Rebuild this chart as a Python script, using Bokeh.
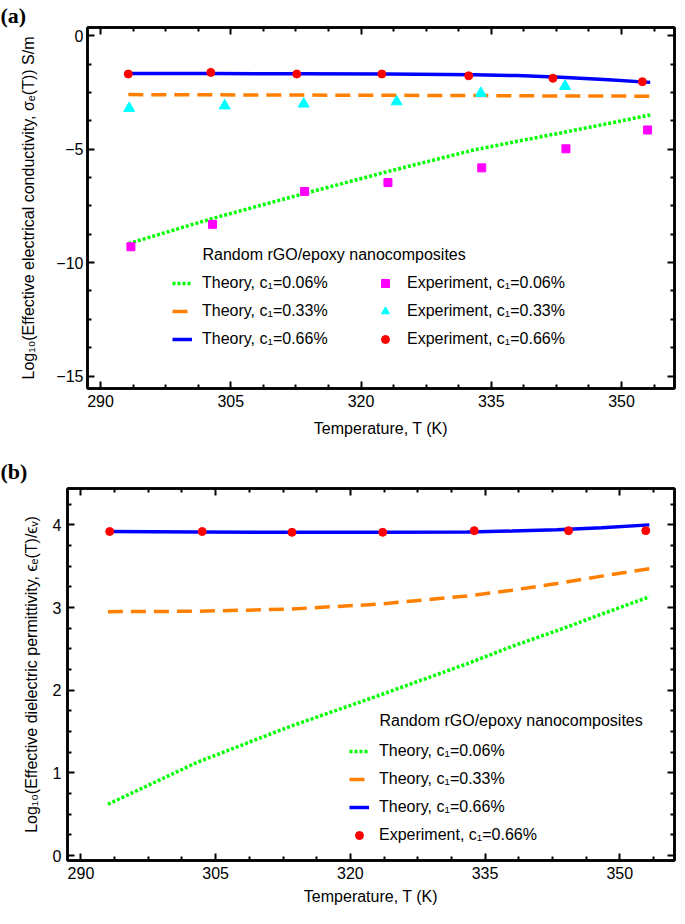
import numpy as np
from bokeh.plotting import figure
from bokeh.models import (Range1d, LinearAxis, FixedTicker, Legend, LegendItem,
                          Label, CustomJSTickFormatter)
from bokeh.layouts import column, row
from bokeh.embed import file_html
from bokeh.resources import INLINE

# ---------------- panel (a) data : log10 conductivity ----------------
a_T_line = [293.2, 303.0, 313.0, 323.0, 333.0, 338.0, 343.0, 348.0, 353.3]
a_theory_006 = [-9.16, -8.04, -7.00, -5.99, -5.03, -4.65, -4.28, -3.90, -3.49]
a_theory_033 = [-2.59, -2.60, -2.61, -2.62, -2.63, -2.64, -2.65, -2.65, -2.66]
a_theory_066 = [-1.66, -1.66, -1.67, -1.68, -1.71, -1.75, -1.82, -1.92, -2.05]

a_T_exp006 = [293.5, 302.9, 313.5, 323.1, 333.9, 343.6, 353.0]
a_exp006 = [-9.30, -8.31, -6.86, -6.47, -5.82, -4.98, -4.15]
a_T_exp033 = [293.3, 304.3, 313.4, 324.1, 333.8, 343.5]
a_exp033 = [-3.19, -3.08, -3.00, -2.90, -2.53, -2.22]
a_T_exp066 = [293.2, 302.7, 312.6, 322.4, 332.4, 342.1, 352.4]
a_exp066 = [-1.68, -1.61, -1.68, -1.68, -1.76, -1.87, -2.02]

# ---------------- panel (b) data : log10 permittivity ----------------
b_T_line = [293.0, 303.0, 313.0, 323.0, 333.0, 338.0, 343.0, 348.0, 353.3]
b_theory_006 = [0.62, 1.13, 1.55, 1.93, 2.32, 2.53, 2.72, 2.92, 3.13]
b_theory_033 = [2.95, 2.955, 2.98, 3.04, 3.14, 3.21, 3.29, 3.38, 3.47]
b_theory_066 = [3.92, 3.915, 3.91, 3.91, 3.915, 3.925, 3.94, 3.965, 4.00]
b_T_exp066 = [293.2, 303.5, 313.5, 323.6, 333.8, 344.3, 352.9]
b_exp066 = [3.92, 3.92, 3.91, 3.91, 3.93, 3.93, 3.93]

# ---------------- axes / labels ----------------
x_major = [290, 305, 320, 335, 350]
a_y_major = [-15, -10, -5, 0]
b_y_major = [0, 1, 2, 3, 4]
x_title = "Temperature, T (K)"
a_y_title = "Log\u2081\u2080(Effective electrical conductivity, \u03c3\u2091(T)) S/m"
b_y_title = "Log\u2081\u2080(Effective dielectric permittivity, \u03f5\u2091(T)/\u03f5\u1d65)"
legend_title = "Random rGO/epoxy nanocomposites"
a_theory_labels = ["Theory, c\u2081=0.06%", "Theory, c\u2081=0.33%", "Theory, c\u2081=0.66%"]
a_exp_labels = ["Experiment, c\u2081=0.06%", "Experiment, c\u2081=0.33%", "Experiment, c\u2081=0.66%"]
b_labels = ["Theory, c\u2081=0.06%", "Theory, c\u2081=0.33%", "Theory, c\u2081=0.66%",
            "Experiment, c\u2081=0.66%"]

X_RANGE = (288.5, 356.1)
A_Y_RANGE = (-15.55, 0.37)
B_Y_RANGE = (-0.06, 4.44)

FONT = "Liberation Sans"
GREEN, ORANGE, BLUE = "#00FF00", "#FF8000", "#0000FF"
RED, MAGENTA, CYAN = "#FF0000", "#FF00FF", "#00FFFF"


def minor_ticks(majors, step, lo, hi):
    out = []
    t = min(majors)
    while t - step >= lo:
        t -= step
    while t <= hi:
        if all(abs(t - m) > 1e-6 for m in majors):
            out.append(round(float(t), 4))
        t += step
    return out


def style_axis(ax, ticker, hidden=False):
    ax.ticker = ticker
    ax.major_tick_in = 7
    ax.major_tick_out = 0
    ax.minor_tick_in = 4
    ax.minor_tick_out = 0
    ax.major_tick_line_width = 2
    ax.minor_tick_line_width = 2
    ax.major_tick_line_color = "black"
    ax.minor_tick_line_color = "black"
    ax.axis_line_width = 2.5
    ax.axis_line_color = "black"
    if hidden:
        ax.formatter = CustomJSTickFormatter(code="return '';")
        ax.major_label_text_font_size = "0px"
        ax.major_label_standoff = 0
    else:
        ax.formatter = CustomJSTickFormatter(
            code="return tick < 0 ? '\u2212' + (-tick) : String(tick);")
        ax.major_label_text_font = FONT
        ax.major_label_text_font_size = "16px"
        ax.major_label_text_color = "black"
        ax.axis_label_text_font = FONT
        ax.axis_label_text_font_size = "16px"
        ax.axis_label_text_font_style = "normal"
        ax.axis_label_text_color = "black"


def build(height, left, right, top, bottom, yr, ymajor, ystep,
          xl_standoff, xt_standoff, yl_standoff, yt_standoff, ytitle,
          tag, tag_standoff):
    p = figure(width=677, height=height,
               x_range=Range1d(*X_RANGE), y_range=Range1d(*yr),
               output_backend="svg", toolbar_location=None,
               min_border_left=left, min_border_right=right,
               min_border_top=top, min_border_bottom=bottom)
    try:
        p.frame_align = False
    except Exception:
        pass
    p.xgrid.visible = False
    p.ygrid.visible = False
    p.outline_line_color = "black"
    p.outline_line_width = 2.5
    p.outline_line_alpha = 1
    p.background_fill_color = "white"
    p.border_fill_color = "white"

    # panel tag "(a)" / "(b)"
    p.title.text = tag
    p.title.text_font = "Liberation Serif"
    p.title.text_font_style = "bold"
    p.title.text_font_size = "22px"
    p.title.text_color = "black"
    p.title.align = "left"
    p.title.offset = -left
    p.title.standoff = tag_standoff

    xt = FixedTicker(ticks=x_major, minor_ticks=minor_ticks(x_major, 3.75, *X_RANGE))
    yt = FixedTicker(ticks=ymajor, minor_ticks=minor_ticks(ymajor, ystep, *yr))

    xa = p.xaxis[0]
    style_axis(xa, xt)
    xa.axis_label = x_title
    xa.major_label_standoff = xl_standoff
    xa.axis_label_standoff = xt_standoff

    ya = p.yaxis[0]
    style_axis(ya, yt)
    ya.axis_label = ytitle
    ya.major_label_standoff = yl_standoff
    ya.axis_label_standoff = yt_standoff

    top_ax = LinearAxis()
    style_axis(top_ax, xt, hidden=True)
    p.add_layout(top_ax, "above")
    right_ax = LinearAxis()
    style_axis(right_ax, yt, hidden=True)
    p.add_layout(right_ax, "right")
    return p


def make_legend(p, items, x, y, standoff):
    lg = Legend(items=items, location=(x, y), orientation="vertical",
                glyph_width=20, glyph_height=20, label_height=20,
                label_standoff=standoff, spacing=8, padding=0, margin=0,
                label_text_font=FONT, label_text_font_size="16px",
                label_text_color="black",
                border_line_alpha=0, background_fill_alpha=0)
    p.add_layout(lg)


def plain_label(p, text, x, y):
    p.add_layout(Label(x=x, y=y, x_units="screen", y_units="screen", text=text,
                       text_font=FONT, text_font_size="16px", text_baseline="middle",
                       text_align="left", text_color="black"))


# ======================= panel (a) =======================
pa = build(444, 87, 3, 25, 56, A_Y_RANGE, a_y_major, 1.25,
           6, 10, 4, 16, a_y_title, "(a)", 0)

ga1 = pa.line(a_T_line, a_theory_006, line_color=GREEN, line_width=3.5, line_dash="3 2")
ga2 = pa.line(a_T_line, a_theory_033, line_color=ORANGE, line_width=3.5, line_dash="15 8")
ga3 = pa.line(a_T_line, a_theory_066, line_color=BLUE, line_width=3.5)
ma1 = pa.scatter(a_T_exp006, a_exp006, marker="square", size=8, color=MAGENTA)
ma2 = pa.scatter(a_T_exp033, a_exp033, marker="triangle", size=11, color=CYAN)
ma3 = pa.scatter(a_T_exp066, a_exp066, marker="circle", size=8, color=RED)

make_legend(pa, [LegendItem(label=a_theory_labels[0], renderers=[ga1]),
                 LegendItem(label=a_theory_labels[1], renderers=[ga2]),
                 LegendItem(label=a_theory_labels[2], renderers=[ga3])], 85, 39, 10)
make_legend(pa, [LegendItem(label=a_exp_labels[0], renderers=[ma1]),
                 LegendItem(label=a_exp_labels[1], renderers=[ma2]),
                 LegendItem(label=a_exp_labels[2], renderers=[ma3])], 288, 39, 12)
plain_label(pa, legend_title, 115, 134)

# ======================= panel (b) =======================
pb = build(464, 67, 3, 44, 48, B_Y_RANGE, b_y_major, 0.25,
           6, 6, 6, 10, b_y_title, "(b)", 9)

gb1 = pb.line(b_T_line, b_theory_006, line_color=GREEN, line_width=3.5, line_dash="3 2")
gb2 = pb.line(b_T_line, b_theory_033, line_color=ORANGE, line_width=3.5, line_dash="15 8")
gb3 = pb.line(b_T_line, b_theory_066, line_color=BLUE, line_width=3.5)
mb = pb.scatter(b_T_exp066, b_exp066, marker="circle", size=8, color=RED)

make_legend(pb, [LegendItem(label=b_labels[0], renderers=[gb1]),
                 LegendItem(label=b_labels[1], renderers=[gb2]),
                 LegendItem(label=b_labels[2], renderers=[gb3]),
                 LegendItem(label=b_labels[3], renderers=[mb])], 282, 15, 10)
plain_label(pb, legend_title, 312, 140)

layout = column(row(pa), row(pb))
open("out.html", "w").write(file_html(layout, INLINE))
